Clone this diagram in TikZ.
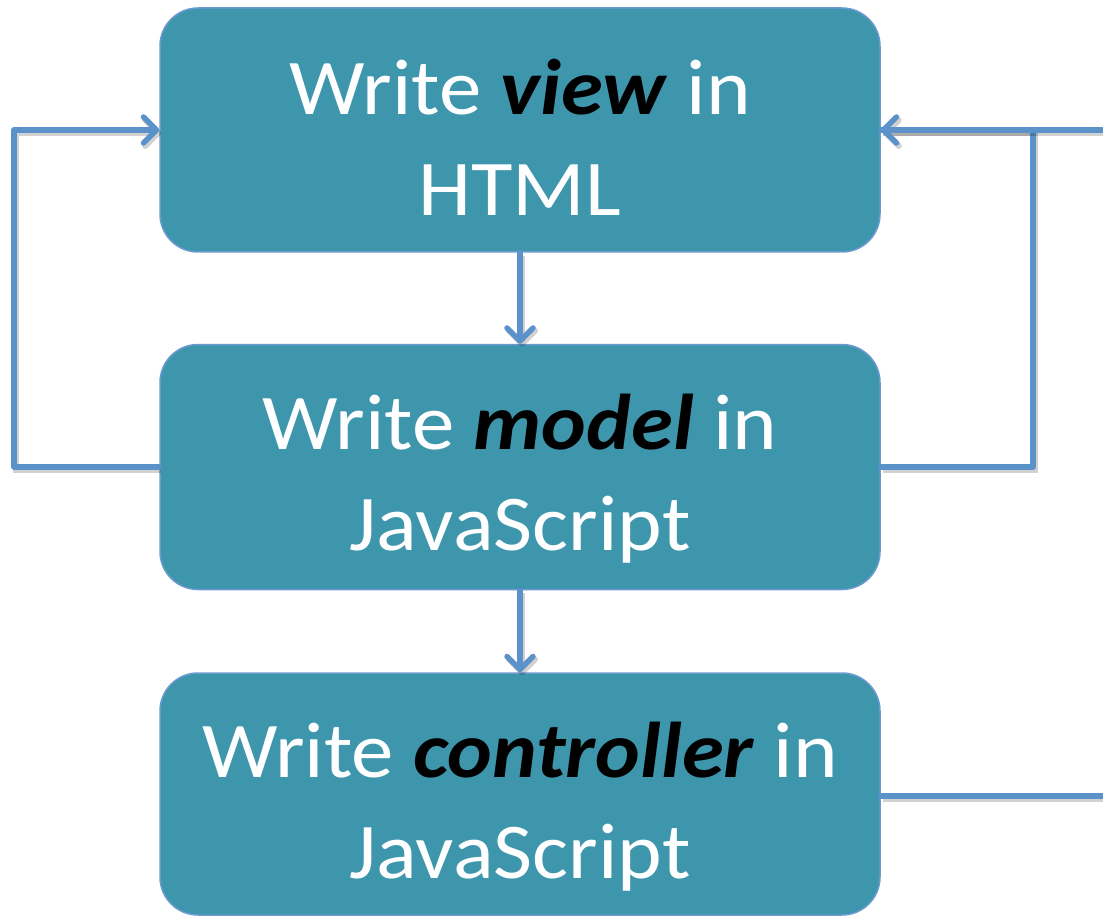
\documentclass[tikz,border=0pt]{standalone}
\usepackage{fontspec}
\setmainfont{Carlito}
\usetikzlibrary{arrows.meta}
\definecolor{boxfill}{HTML}{3E96AD}
\definecolor{boxline}{HTML}{6A9ACF}
\definecolor{conn}{HTML}{5C92CA}
\tikzset{
  stepbox/.style={draw=boxline, line width=1.5pt, fill=boxfill, rounded corners=38pt,
    minimum width=720pt, inner sep=0pt},
  boxtext/.style={inner sep=0pt, text=white, align=center,
    font=\fontsize{79pt}{101pt}\selectfont},
  conn/.style={draw=conn, line width=5.5pt, line cap=round, line join=round,
    preaction={draw=black, opacity=0.18, line width=6pt,
      transform canvas={shift={(2pt,-3pt)}}}},
  arr/.style={conn, -{Straight Barb[length=13pt,width=26pt,round]}}
}
\newcommand{\kwd}[1]{\textcolor{black}{\textbf{\textit{#1}}}}
\newcommand{\wline}[1]{\scalebox{1.075}[1]{#1}}
\begin{document}
\begin{tikzpicture}[x=1pt,y=-1pt]
\useasboundingbox (0,0) rectangle (1103,917);
\node[stepbox, minimum height=244pt] (view) at (520,130) {};
\node[stepbox, minimum height=245pt] (model) at (520,467) {};
\node[stepbox, minimum height=242pt] (ctrl) at (520,794) {};
\node[boxtext] (viewt) at ([yshift=-7pt]view.center) {\wline{Write \kwd{view} in}\\\wline{HTML}};
\node[boxtext] (modelt) at ([yshift=-12pt]model.center) {\wline{Write \kwd{model} in}\\\wline{JavaScript}};
\node[boxtext] (ctrlt) at ([yshift=-13pt]ctrl.center) {\wline{Write \kwd{controller} in}\\\wline{JavaScript}};
\coordinate (lc) at (14,467);
\coordinate (rc) at (1033,467);
\coordinate (rtop) at (1110,130);
\coordinate (rbot) at (1110,796);
\draw[arr] (view.south) -- (model.north);
\draw[arr] (model.south) -- (ctrl.north);
\draw[arr] (model.west) -- (lc) |- (view.west);
\draw[conn] (model.east) -- (rc) |- (view.east);
\draw[arr] (rtop) -- (view.east);
\draw[conn] (ctrl.east |- rbot) -- (rbot);
\end{tikzpicture}
\end{document}
